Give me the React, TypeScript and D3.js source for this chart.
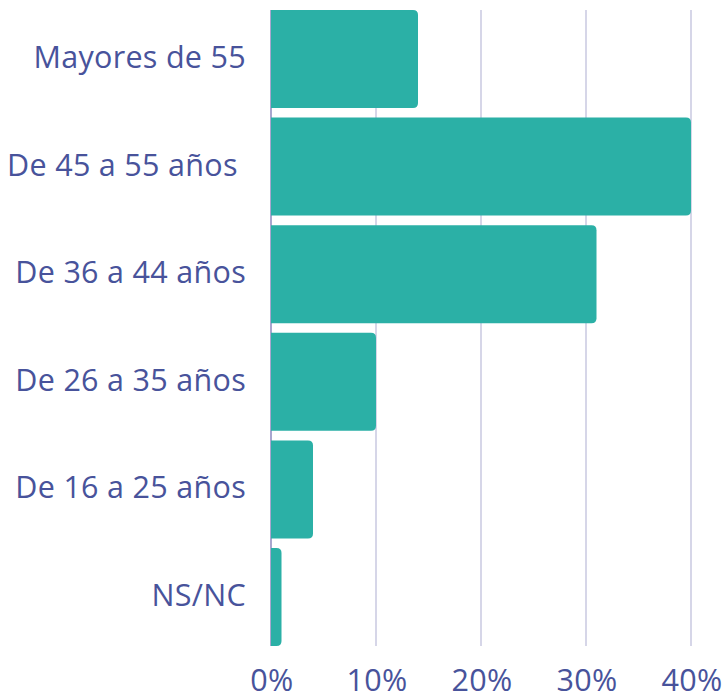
import React, { useEffect, useRef } from "react";
import * as d3 from "d3";

const categories = [
  "Mayores de 55",
  "De 45 a 55 años ",
  "De 36 a 44 años",
  "De 26 a 35 años",
  "De 16 a 25 años",
  "NS/NC",
];
const values = [14, 40, 31, 10, 4, 1];
const ticks = [0, 10, 20, 30, 40];

const App: React.FC = () => {
  const svgRef = useRef<SVGSVGElement>(null);

  useEffect(() => {
    if (!svgRef.current) return;
    d3.select(svgRef.current).selectAll("*").remove();

    const width = 724;
    const height = 695;
    const font = "'Open Sans', Lato, sans-serif";
    const textColor = "#48539b";

    const svg = d3
      .select(svgRef.current)
      .attr("width", width)
      .attr("height", height);

    const x = d3.scaleLinear().domain([0, 40]).range([271, 691]);
    const y = d3
      .scaleBand()
      .domain(categories)
      .range([10, 646])
      .paddingInner(0.09)
      .paddingOuter(0);

    // Gridlines
    svg
      .append("g")
      .selectAll("line")
      .data(ticks)
      .enter()
      .append("line")
      .attr("x1", (d) => x(d))
      .attr("x2", (d) => x(d))
      .attr("y1", 10)
      .attr("y2", 646)
      .attr("stroke", (d) => (d === 0 ? "#a9a6cf" : "#d6d6e8"))
      .attr("stroke-width", 2);

    // Bars: rounded on the right side only
    const r = 5;
    svg
      .append("g")
      .selectAll("path")
      .data(values)
      .enter()
      .append("path")
      .attr("fill", "#2bb0a6")
      .attr("d", (d, i) => {
        const x0 = x(0);
        const x1 = x(d);
        const y0 = y(categories[i]) || 0;
        const h = y.bandwidth();
        const rr = Math.min(r, (x1 - x0) / 2);
        return `M${x0},${y0}H${x1 - rr}Q${x1},${y0} ${x1},${y0 + rr}V${y0 + h - rr}Q${x1},${y0 + h} ${x1 - rr},${y0 + h}H${x0}Z`;
      });

    // Category labels
    svg
      .append("g")
      .selectAll("text")
      .data(categories)
      .enter()
      .append("text")
      .attr("x", 246)
      .attr("y", (d) => (y(d) || 0) + y.bandwidth() / 2 + 9)
      .attr("text-anchor", "end")
      .attr("fill", textColor)
      .style("font-family", font)
      .style("font-weight", 400)
      .style("font-size", "30.5px")
      .style("letter-spacing", "0.3px")
      .style("white-space", "pre")
      .text((d) => d);

    // Tick labels
    svg
      .append("g")
      .selectAll("text")
      .data(ticks)
      .enter()
      .append("text")
      .attr("x", (d) => x(d) + 1)
      .attr("y", 691)
      .attr("text-anchor", "middle")
      .attr("fill", textColor)
      .style("font-family", font)
      .style("font-weight", 400)
      .style("font-size", "30.5px")
      .style("letter-spacing", "0.3px")
      .text((d) => `${d}%`);
  }, []);

  return (
    <div style={{ position: "absolute", left: 0, top: 0 }}>
      <svg ref={svgRef}></svg>
    </div>
  );
};

export default App;
